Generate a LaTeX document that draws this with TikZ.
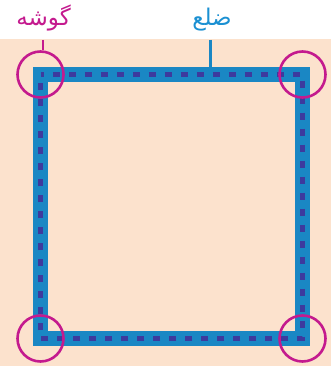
\documentclass[tikz,border=0pt]{standalone}
\usepackage{fontspec}
\newfontfamily\arabicfont[Script=Arabic]{DejaVu Sans}
\TeXXeTstate=1
\definecolor{peach}{HTML}{FCE2CD}
\definecolor{sideblue}{HTML}{1A87C4}
\definecolor{dashblue}{HTML}{3D3A9E}
\definecolor{mag}{HTML}{C41A8E}
\definecolor{txtblue}{HTML}{1B90D2}
\tikzset{
  band/.style={draw=sideblue, line width=15pt},
  dashline/.style={draw=dashblue, line width=4.5pt, dash pattern=on 7.5pt off 8.5pt, dash phase=3.75pt},
  corner/.style={draw=mag, line width=2.6pt, circle, minimum size=46pt, inner sep=0pt},
  lbl/.style={font=\arabicfont\fontsize{23}{26}\selectfont, inner sep=0pt},
}
\begin{document}
\begin{tikzpicture}[x=1pt,y=-1pt]
\useasboundingbox (0,0) rectangle (331,366);
\fill[peach] (0,39) rectangle (331,366);
\coordinate (tl) at (40.5,74.5);
\coordinate (tr) at (302.5,74.5);
\coordinate (br) at (302.5,338.5);
\coordinate (bl) at (40.5,338.5);
\draw[band] (tl) -- (tr) -- (br) -- (bl) -- cycle;
\draw[dashline] (tl) -- (tr) -- (br) -- (bl) -- cycle;
\node[corner] (ctl) at (tl) {};
\node[corner] (ctr) at (tr) {};
\node[corner] (cbr) at (br) {};
\node[corner] (cbl) at (bl) {};
\node[lbl, text=mag] (gosheh) at (43.5,18) {\beginR گوشه\endR};
\node[lbl, text=txtblue] (zel) at (212,20) {\beginR ضلع\endR};
\coordinate (zelend) at (210,67);
\draw[mag, line width=2.6pt] (43,40) -- (ctl.north -| 43,0);
\draw[sideblue, line width=3pt] (210,40) -- (zelend);
\end{tikzpicture}
\end{document}
